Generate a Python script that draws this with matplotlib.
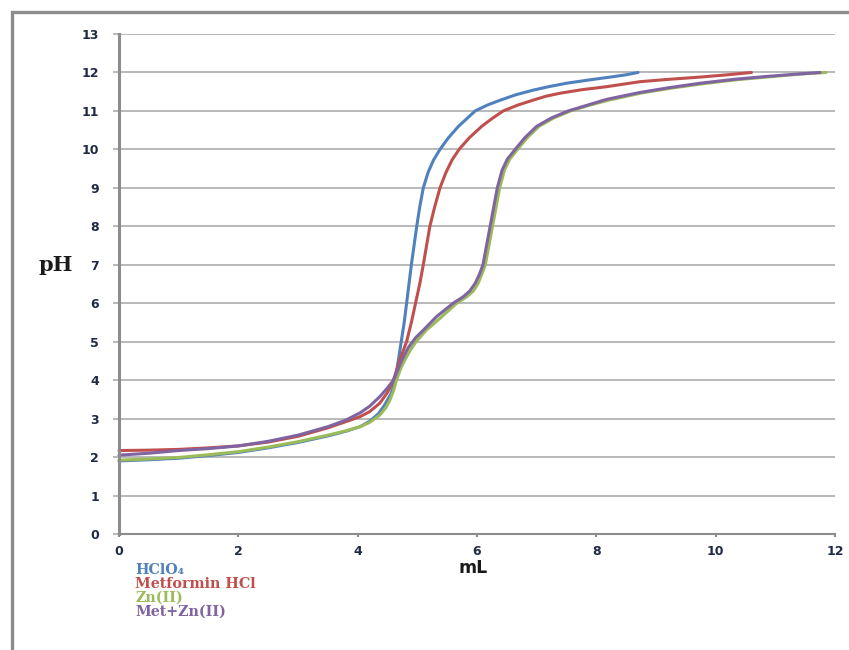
import matplotlib
matplotlib.use("Agg")
import matplotlib.pyplot as plt
from matplotlib.patches import Rectangle

# ---------------- data ----------------
series_names = ["HClO\u2084", "Metformin HCl", "Zn(II)", "Met+Zn(II)"]
series_colors = ["#4F81BD", "#C0504D", "#9BBB59", "#8064A2"]

hclo4_ml = [0, 0.5, 1, 1.5, 2, 2.5, 3, 3.5, 3.8, 4.04, 4.2, 4.35, 4.45, 4.56, 4.63,
            4.68, 4.73, 4.78, 4.82, 4.86, 4.90, 4.945, 4.99, 5.04, 5.10, 5.18,
            5.27, 5.38, 5.52, 5.69, 5.83, 5.97, 6.17, 6.39, 6.65, 6.94, 7.2,
            7.5, 7.9, 8.28, 8.5, 8.7]
hclo4_ph = [1.90, 1.93, 1.97, 2.04, 2.12, 2.24, 2.38, 2.55, 2.67, 2.79, 2.93, 3.13,
            3.35, 3.65, 4.0, 4.5, 5.0, 5.5, 6.0, 6.5, 7.0, 7.5, 8.0, 8.5, 9.0, 9.4,
            9.72, 10.0, 10.3, 10.6, 10.8, 11.0, 11.15, 11.28, 11.42, 11.54, 11.63,
            11.72, 11.81, 11.89, 11.94, 12.0]

met_ml = [0, 0.5, 1, 1.5, 2, 2.5, 3, 3.5, 3.8, 4.04, 4.2, 4.37, 4.5, 4.6, 4.70,
          4.82, 4.90, 4.97, 5.04, 5.10, 5.155, 5.21, 5.29, 5.38, 5.48, 5.58,
          5.70, 5.87, 6.08, 6.25, 6.44, 6.68, 6.94, 7.15, 7.39, 7.75, 8.17, 8.73,
          9.2, 9.74, 10.2, 10.6]
met_ph = [2.17, 2.18, 2.20, 2.24, 2.29, 2.39, 2.54, 2.76, 2.92, 3.05, 3.18, 3.40,
          3.68, 4.0, 4.5, 5.0, 5.5, 6.0, 6.5, 7.0, 7.5, 8.0, 8.5, 9.0, 9.4, 9.72,
          10.0, 10.3, 10.6, 10.8, 11.0, 11.15, 11.28, 11.38, 11.46, 11.55,
          11.63, 11.76, 11.82, 11.88, 11.94, 12.0]

zn_ml = [0, 0.5, 1, 1.5, 2, 2.5, 3, 3.5, 3.8, 4.04, 4.2, 4.37, 4.47, 4.54, 4.6, 4.65,
         4.72, 4.8, 4.89, 4.98, 5.15, 5.41, 5.66, 5.83, 5.94, 6.02, 6.08, 6.14,
         6.20, 6.26, 6.32, 6.38, 6.46, 6.55, 6.68, 6.84, 7.04, 7.29, 7.57, 7.89,
         8.21, 8.77, 9.25, 9.8, 10.35, 10.85, 11.35, 11.85]
zn_ph = [1.92, 1.95, 1.99, 2.06, 2.14, 2.26, 2.40, 2.57, 2.68, 2.79, 2.90, 3.09,
         3.28, 3.48, 3.72, 4.0, 4.3, 4.55, 4.8, 5.0, 5.3, 5.65, 6.0, 6.17, 6.32,
         6.52, 6.75, 7.0, 7.5, 8.0, 8.5, 9.0, 9.46, 9.75, 10.0, 10.3, 10.6,
         10.82, 11.0, 11.15, 11.28, 11.47, 11.59, 11.71, 11.81, 11.88, 11.95, 12.0]

metzn_ml = [0, 0.5, 1, 1.5, 2, 2.5, 3, 3.5, 3.8, 4.04, 4.2, 4.37, 4.5, 4.6, 4.74,
            4.85, 4.97, 5.10, 5.32, 5.60, 5.77, 5.88, 5.97, 6.04, 6.10, 6.16, 6.22,
            6.28, 6.34, 6.42, 6.51, 6.64, 6.8, 7.0, 7.25, 7.53, 7.85, 8.17, 8.73,
            9.2, 9.74, 10.3, 10.8, 11.3, 11.75]
metzn_ph = [2.05, 2.10, 2.17, 2.22, 2.29, 2.41, 2.57, 2.79, 2.96, 3.15, 3.32, 3.57,
            3.8, 4.0, 4.52, 4.85, 5.1, 5.3, 5.65, 6.0, 6.17, 6.32, 6.52, 6.75, 7.0,
            7.5, 8.0, 8.5, 9.0, 9.46, 9.75, 10.0, 10.3, 10.6, 10.82, 11.0, 11.15,
            11.3, 11.48, 11.6, 11.72, 11.82, 11.89, 11.95, 12.0]

x_ticks = [0, 2, 4, 6, 8, 10, 12]
y_ticks = list(range(0, 14))

# ---------------- figure ----------------
fig = plt.figure(figsize=(8.49, 6.5), dpi=100)
fig.patch.set_facecolor("white")

# outer chart border (gray frame partially visible)
fig.patches.append(Rectangle((12 / 849, -0.05), 1.2, 1.05 - 12 / 650,
                             transform=fig.transFigure, fill=False,
                             edgecolor="#8C8C8C", linewidth=2.4, zorder=0))

ax = fig.add_axes([119 / 849, 1 - 534 / 650, (835 - 119) / 849, (534 - 34) / 650])
ax.set_xlim(0, 12)
ax.set_ylim(0, 13)

grid_color = "#A6A6A6"
ax.set_yticks(y_ticks)
ax.set_xticks(x_ticks)
ax.yaxis.grid(True, color=grid_color, linewidth=1.1)
ax.set_axisbelow(True)

for s in ["top", "right"]:
    ax.spines[s].set_visible(False)
ax.spines["left"].set_color("#8C8C8C")
ax.spines["left"].set_linewidth(2.2)
ax.spines["bottom"].set_color("#8C8C8C")
ax.spines["bottom"].set_linewidth(1.5)

ax.tick_params(axis="y", direction="out", length=4.5, width=1.1, color=grid_color,
               pad=10, labelsize=9, labelcolor="#1F2A44")
ax.tick_params(axis="x", direction="out", length=2.5, width=1.5, color="#8C8C8C",
               pad=5.5, labelsize=9, labelcolor="#1F2A44")
for lab in ax.get_xticklabels() + ax.get_yticklabels():
    lab.set_fontweight("bold")

xs = [hclo4_ml, met_ml, zn_ml, metzn_ml]
ys = [hclo4_ph, met_ph, zn_ph, metzn_ph]
for x, y, c in zip(xs, ys, series_colors):
    ax.plot(x, y, color=c, linewidth=2.2, solid_capstyle="round",
            solid_joinstyle="round", clip_on=False)

# axis titles
fig.text(56 / 849, 1 - 265 / 650, "pH", family=["DejaVu Serif"], fontweight="bold",
         fontsize=15, ha="center", va="center", color="#1A1A1A")
fig.text(473 / 849, 1 - 568 / 650, "mL", family=["DejaVu Sans"], fontweight="bold",
         fontsize=12.5, ha="center", va="center", color="#1A1A1A")

# legend (colored text entries below the axis)
leg_y = [570, 584, 598, 612]
for name, c, yy in zip(series_names, series_colors, leg_y):
    fig.text(135 / 849, 1 - yy / 650, name, family=["DejaVu Serif"],
             fontweight="bold", fontsize=10.3, ha="left", va="center", color=c)

fig.savefig("out.png", dpi=100, facecolor="white")
